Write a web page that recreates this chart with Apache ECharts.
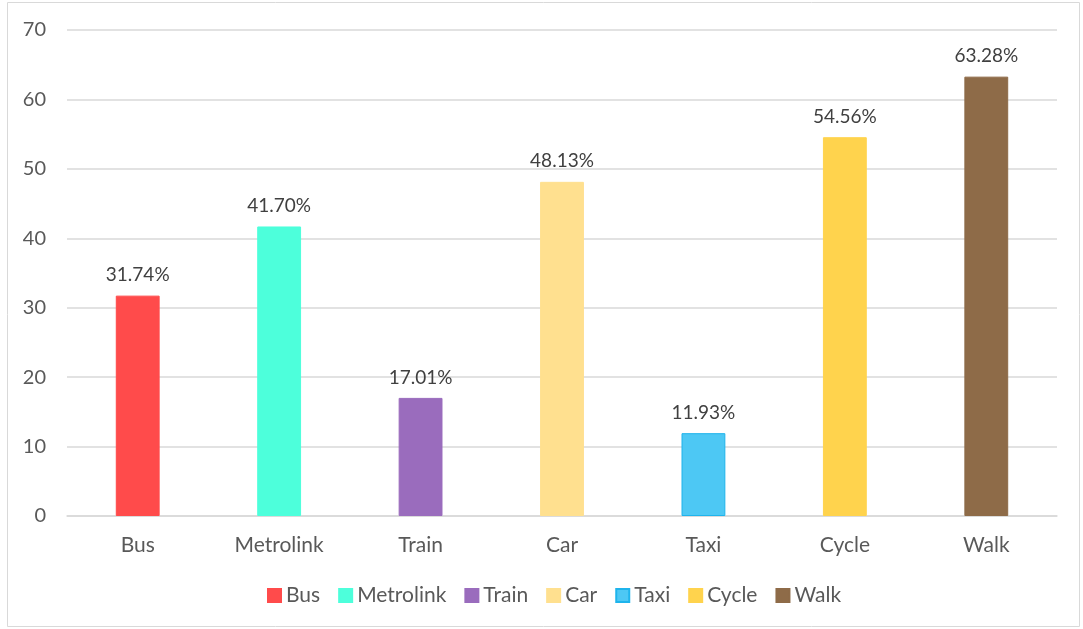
<!DOCTYPE html>
<html>
<head>
<meta charset="utf-8">
<script src="https://cdn.jsdelivr.net/npm/echarts@6/dist/echarts.min.js"></script>
<style>
  html, body { margin: 0; padding: 0; background: #fff; }
  #chart { width: 1083px; height: 629px; }
</style>
</head>
<body>
<div id="chart"></div>
<script>
// transport modes and their shares
const categories = ['Bus', 'Metrolink', 'Train', 'Car', 'Taxi', 'Cycle', 'Walk']
const values = [31.74, 41.70, 17.01, 48.13, 11.93, 54.56, 63.28]
const colors = ['#FF4B4B', '#4DFFDB', '#9A6CBD', '#FFE08F', '#4DC8F4', '#FFD34D', '#8E6B48']
const borders = ['#FF4B4B', '#4DFFDB', '#9A6CBD', '#FFE08F', '#1FB4EC', '#FFD34D', '#8E6B48']
const yTicks = { min: 0, max: 70, interval: 10 }

const font = 'Lato, sans-serif'

const chart = echarts.init(document.getElementById('chart'))

// one series per mode so each gets its own legend entry
const series = categories.map((name, i) => ({
  name: name,
  type: 'bar',
  stack: 'all',
  barWidth: '31%',
  data: categories.map((c, j) => (j === i ? values[i] : '-')),
  itemStyle: { color: colors[i], borderColor: borders[i], borderWidth: 1 },
  label: {
    show: true,
    position: 'top',
    distance: 11,
    fontFamily: font,
    fontSize: 19,
    color: '#404040',
    formatter: p => p.value.toFixed(2) + '%'
  }
}))

chart.setOption({
  animation: false,
  graphic: [{
    type: 'rect',
    shape: { x: 7.5, y: 2.5, width: 1072, height: 624 },
    style: { fill: 'none', stroke: '#d9d9d9', lineWidth: 1 },
    silent: true
  }],
  grid: { left: 67, right: 26, top: 30, bottom: 113 },
  legend: {
    bottom: 18,
    left: 262,
    itemWidth: 13,
    itemHeight: 13,
    itemGap: 18,
    icon: 'rect',
    textStyle: { fontFamily: font, fontSize: 21, color: '#595959' },
    data: categories
  },
  xAxis: {
    type: 'category',
    data: categories,
    axisTick: { show: false },
    axisLine: { lineStyle: { color: '#d9d9d9', width: 1.5 } },
    axisLabel: { fontFamily: font, fontSize: 21, color: '#595959', margin: 19 }
  },
  yAxis: {
    type: 'value',
    min: yTicks.min,
    max: yTicks.max,
    interval: yTicks.interval,
    axisLine: { show: false },
    axisTick: { show: false },
    axisLabel: { fontFamily: font, fontSize: 20, color: '#595959', margin: 21 },
    splitLine: { lineStyle: { color: '#d9d9d9', width: 1.5 } }
  },
  series: series
})
</script>
</body>
</html>
